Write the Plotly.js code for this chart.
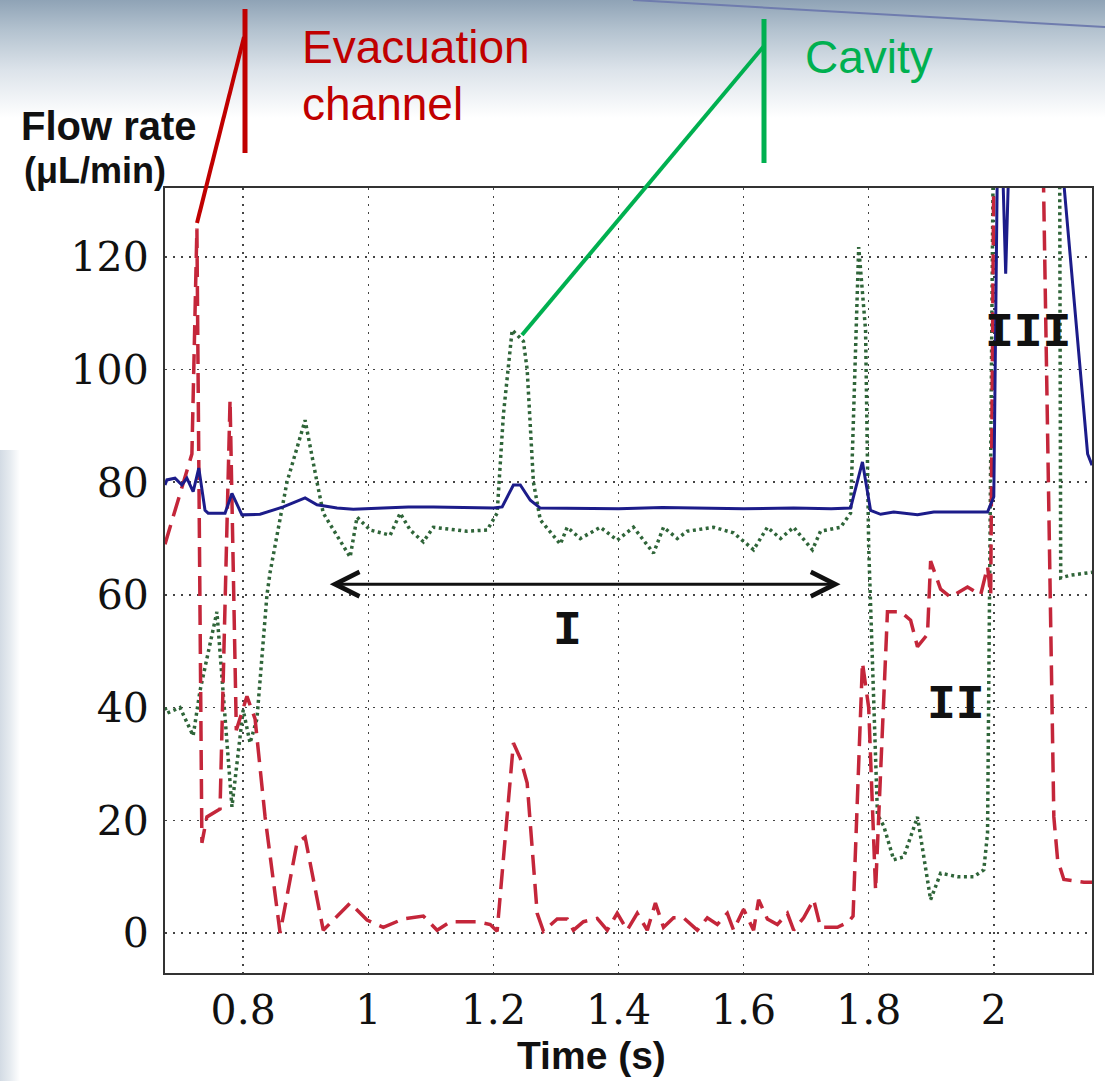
<!DOCTYPE html>
<html><head><meta charset="utf-8">
<script src="https://cdn.plot.ly/plotly-3.0.1.min.js"></script>
<style>
html,body{margin:0;padding:0;}
body{width:1105px;height:1081px;overflow:hidden;background:
 linear-gradient(to right, #d3dbe4 0px, #e6ebf0 10px, rgba(255,255,255,0) 20px) 0 450px / 22px 631px no-repeat,
 linear-gradient(to bottom, #8fa3b6 0px, #b3c2cf 30px, #dce3ea 70px, #ffffff 118px) 0 0 / 100% 100% no-repeat;}
#chart{width:1105px;height:1081px;}
</style></head><body><div id="chart"></div>
<script>
// ---- data ----
const xTickVals = [0.8, 1, 1.2, 1.4, 1.6, 1.8, 2];
const xTickText = ["0.8", "1", "1.2", "1.4", "1.6", "1.8", "2"];
const yTickVals = [0, 20, 40, 60, 80, 100, 120];
const yTickText = ["0", "20", "40", "60", "80", "100", "120"];

// blue solid trace
const blueTime = [0.675,0.678,0.691,0.702,0.710,0.720,0.729,0.739,0.744,0.771,0.782,0.798,0.827,0.864,0.899,0.918,0.950,0.976,1.024,1.064,1.104,1.150,1.200,1.214,1.232,1.243,1.259,1.275,1.330,1.400,1.470,1.531,1.600,1.680,1.740,1.771,1.790,1.803,1.819,1.840,1.878,1.904,1.950,1.990,2.000,2.005,2.008,2.019,2.030,2.110,2.112,2.150,2.157];
const blueFlow = [79.5,80.4,80.7,79.5,80.7,78.3,82.5,75.0,74.5,74.5,78.0,74.2,74.3,75.6,77.2,76.0,75.4,75.2,75.4,75.6,75.6,75.5,75.4,75.6,79.5,79.5,76.8,75.4,75.4,75.3,75.5,75.4,75.3,75.4,75.3,75.4,83.6,75.0,74.3,74.7,74.2,74.7,74.7,74.7,77.4,160,160,117,160,160,133,85,83];

// red dashed trace
const redTime = [0.675,0.718,0.726,0.734,0.742,0.763,0.779,0.789,0.806,0.819,0.835,0.859,0.886,0.899,0.928,0.971,0.998,1.024,1.056,1.088,1.110,1.131,1.174,1.195,1.206,1.232,1.243,1.254,1.270,1.280,1.302,1.318,1.328,1.344,1.366,1.382,1.398,1.414,1.430,1.446,1.459,1.472,1.488,1.504,1.526,1.542,1.558,1.574,1.584,1.600,1.616,1.624,1.638,1.654,1.670,1.680,1.696,1.712,1.723,1.750,1.768,1.775,1.790,1.800,1.811,1.819,1.830,1.851,1.867,1.878,1.894,1.899,1.915,1.931,1.958,1.979,1.990,1.995,2.001,2.077,2.080,2.096,2.102,2.112,2.144,2.157];
const redFlow = [69,85,125,16,20.6,22,94.6,36,42,38,20.6,0,16,17,0.5,5.3,2.3,1,2.5,3,0.5,2,2,1.5,0.3,33.7,31,26.6,3.5,0.3,2.5,2.5,0.5,2,2.6,0.5,3.5,0.5,3.5,0.5,5.3,1,2.7,2.7,0.5,2.7,1.5,3.5,0.5,4.2,0.5,5.9,2.5,1.5,3.5,0.5,2.7,5.9,1,1,2,3,48,40,7.6,30,57,57,55.5,50.8,53,66,61,59.6,61.4,60,65,60,150,150,129.5,20.6,13,9.5,9,9];

// green dotted trace
const greenTime = [0.675,0.678,0.699,0.720,0.731,0.758,0.782,0.800,0.811,0.822,0.838,0.843,0.870,0.899,0.918,0.928,0.971,0.982,1.003,1.035,1.051,1.067,1.088,1.104,1.158,1.190,1.206,1.216,1.230,1.248,1.254,1.264,1.275,1.307,1.318,1.339,1.371,1.398,1.424,1.456,1.472,1.494,1.510,1.552,1.584,1.616,1.638,1.659,1.680,1.710,1.723,1.755,1.771,1.784,1.795,1.800,1.814,1.824,1.840,1.856,1.878,1.899,1.915,1.942,1.968,1.984,1.990,2.000,2.105,2.107,2.123,2.150,2.157];
const greenFlow = [40,39,40,35,43,57,22.4,39.6,33.7,38,60,64,80,91,80,74.5,66.7,73.8,71.5,70.6,74.5,71.5,69.4,72,71.3,71.5,74.5,92,107,105,100,80,73.3,69,72,70,72,69.7,72,67.4,72,70,71.3,72,71,68,72,70,72,68,71.3,72,74.5,121.7,107,68.5,21,19,13,13.5,20.6,5.9,10.6,10,10,11.2,17.7,150,150,63,63.5,64,64];

// arrow span for regime I
const arrowStart = 0.936, arrowEnd = 1.755, arrowLevel = 61.9;
// regime labels
const regimeText = ["I", "II", "III"];
const regimeTime = [1.318, 1.939, 2.054];
const regimeFlow = [53.6, 40.5, 106.5];

const traces = [
  {x: greenTime, y: greenFlow, type: 'scatter', mode: 'lines', name: 'Cavity',
   line: {color: '#2f6539', width: 3.5, dash: '3px,3.5px'}},
  {x: redTime, y: redFlow, type: 'scatter', mode: 'lines', name: 'Evacuation channel',
   line: {color: '#c4263a', width: 3.5, dash: '20px,9px'}},
  {x: blueTime, y: blueFlow, type: 'scatter', mode: 'lines', name: 'Inlet',
   line: {color: '#1c1c8a', width: 3}}
];

const W = 927, H = 785, L = 165, T = 188;
function px(xp){ return (xp - L) / W; }
function py(yp){ return (T + H - yp) / H; }

const annotations = [
  {xref:'paper', yref:'paper', x:px(19), y:py(126), xanchor:'left', yanchor:'middle', showarrow:false,
   text:'Flow rate', font:{family:'Liberation Sans, Arial', size:40, weight:700, color:'#111'}},
  {xref:'paper', yref:'paper', x:px(22), y:py(170), xanchor:'left', yanchor:'middle', showarrow:false,
   text:'(μL/min)', font:{family:'Liberation Sans, Arial', size:36, weight:700, color:'#111'}},
  {xref:'paper', yref:'paper', x:px(591), y:py(1055), xanchor:'center', yanchor:'middle', showarrow:false,
   text:'Time (s)', font:{family:'Liberation Sans, Arial', size:39, weight:700, color:'#111'}},
  {xref:'paper', yref:'paper', x:px(300), y:py(47), xanchor:'left', yanchor:'middle', showarrow:false,
   text:'Evacuation', font:{family:'Liberation Sans, Arial', size:46, color:'#c00000'}},
  {xref:'paper', yref:'paper', x:px(300), y:py(104), xanchor:'left', yanchor:'middle', showarrow:false,
   text:'channel', font:{family:'Liberation Sans, Arial', size:46, color:'#c00000'}},
  {xref:'paper', yref:'paper', x:px(803), y:py(57), xanchor:'left', yanchor:'middle', showarrow:false,
   text:'Cavity', font:{family:'Liberation Sans, Arial', size:46, color:'#00b050'}},
  {xref:'x', yref:'y', x:arrowEnd, y:arrowLevel, axref:'x', ayref:'y', ax:arrowStart, ay:arrowLevel,
   text:'', showarrow:true, arrowside:'end+start', arrowhead:5, startarrowhead:5,
   arrowsize:1.6, startarrowsize:1.6, arrowwidth:3, arrowcolor:'#111'}
];
regimeText.forEach((t, i) => annotations.push({
  xref:'x', yref:'y', x:regimeTime[i], y:regimeFlow[i], xanchor:'center', yanchor:'middle', showarrow:false,
  text:t, font:{family:'Liberation Mono, Courier New, monospace', size:48, weight:700, color:'#111'}
}));

const shapes = [
  {type:'line', xref:'paper', yref:'paper', x0:px(633), y0:py(0), x1:px(1105), y1:py(27), line:{color:'#6f7cae', width:2}},
  {type:'line', xref:'paper', yref:'paper', x0:px(245), y0:py(9), x1:px(245), y1:py(153), line:{color:'#c00000', width:5}},
  {type:'line', xref:'paper', yref:'paper', x0:px(244), y0:py(37), x1:px(197), y1:py(223), line:{color:'#c00000', width:4}},
  {type:'line', xref:'paper', yref:'paper', x0:px(764), y0:py(19), x1:px(764), y1:py(163), line:{color:'#00b050', width:5}},
  {type:'line', xref:'paper', yref:'paper', x0:px(764), y0:py(46), x1:px(522), y1:py(335), line:{color:'#00b050', width:4}}
];

const axisCommon = {
  showgrid:true, gridcolor:'#444', gridwidth:1.5, griddash:'2px,6px',
  showline:true, mirror:true, linecolor:'#333', linewidth:2,
  zeroline:false, ticks:'', fixedrange:true,
  tickfont:{family:'DejaVu Serif', size:41, color:'#111'}
};

const layout = {
  width:1105, height:1081,
  margin:{l:L, r:1105 - L - W, t:T, b:1081 - T - H},
  paper_bgcolor:'rgba(0,0,0,0)', plot_bgcolor:'#ffffff',
  showlegend:false,
  xaxis: Object.assign({}, axisCommon, {range:[0.675, 2.157], tickmode:'array', tickvals:xTickVals, ticktext:xTickText, ticklabelstandoff:0}),
  yaxis: Object.assign({}, axisCommon, {range:[-7.1, 132.2], tickmode:'array', tickvals:yTickVals, ticktext:yTickText, ticklabelstandoff:6}),
  annotations: annotations,
  shapes: shapes
};

Plotly.newPlot('chart', traces, layout, {displayModeBar:false, staticPlot:true});
</script></body></html>
